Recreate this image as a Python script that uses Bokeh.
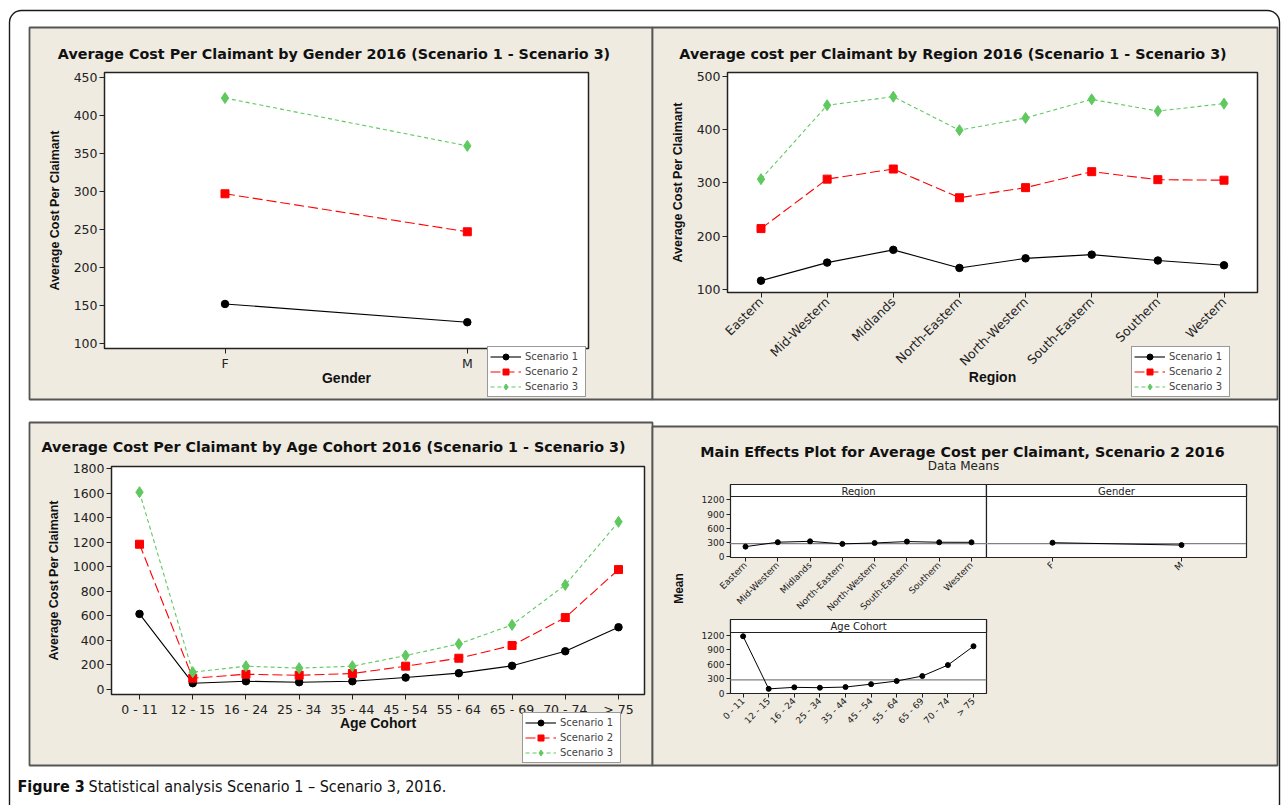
import math
from bokeh.plotting import figure
from bokeh.models import (Range1d, LinearAxis, FixedTicker, Legend, LegendItem,
                          Label, BoxAnnotation)
from bokeh.embed import file_html
from bokeh.resources import INLINE

# ---------------- data ----------------
genders = ["F", "M"]
gender_s1 = [152, 128]
gender_s2 = [297, 247]
gender_s3 = [423, 360]

regions = ["Eastern", "Mid-Western", "Midlands", "North-Eastern",
           "North-Western", "South-Eastern", "Southern", "Western"]
region_s1 = [116, 150, 174, 140, 158, 165, 154, 145]
region_s2 = [214, 307, 326, 272, 291, 321, 306, 305]
region_s3 = [307, 446, 462, 399, 422, 457, 435, 449]

ages = ["0 - 11", "12 - 15", "16 - 24", "25 - 34", "35 - 44",
        "45 - 54", "55 - 64", "65 - 69", "70 - 74", "> 75"]
age_s1 = [615, 49, 65, 57, 65, 95, 131, 191, 310, 506]
age_s2 = [1184, 90, 122, 114, 128, 188, 253, 357, 585, 977]
age_s3 = [1609, 139, 188, 172, 188, 275, 370, 525, 852, 1367]

scenario_names = ["Scenario 1", "Scenario 2", "Scenario 3"]
s2_grand_mean = 278

gender_ticks = [100, 150, 200, 250, 300, 350, 400, 450]
region_ticks = [100, 200, 300, 400, 500]
age_ticks = [0, 200, 400, 600, 800, 1000, 1200, 1400, 1600, 1800]
mean_ticks = [0, 300, 600, 900, 1200]

# ---------------- style / layout ----------------
BEIGE = "#EFEBE1"
S_COLORS = ["#000000", "#FF0000", "#5FC95F"]
S_MARKERS = ["circle", "square", "diamond"]
S_SIZES = [7.5, 8, 11]
S_DASH = ["solid", "10 4", "4 3"]
TICK_FONT = "DejaVu Sans"
LAB_FONT = "Liberation Sans"
TITLE_FONT = "DejaVu Sans"

W, H = 1281, 805          # canvas size
X0, Y0 = 0, 0             # page position of the canvas

p = figure(width=W, height=H, x_range=Range1d(X0, X0 + W),
           y_range=Range1d(Y0 + H, Y0), x_axis_type=None, y_axis_type=None,
           toolbar_location=None, output_backend="svg",
           min_border_left=0, min_border_right=0, min_border_top=0,
           min_border_bottom=0)
p.outline_line_color = None
p.background_fill_color = "white"
p.border_fill_color = "white"

xr_dict, yr_dict = {}, {}


def axis_map(v0, p0, v1, p1, c_start, c_end):
    s = (v1 - v0) / (p1 - p0)

    def f(px):
        return v0 + (px - p0) * s
    return Range1d(f(c_start), f(c_end)), f


def add_ranges(name, xmap, ymap):
    xr, fx = axis_map(*xmap, X0, X0 + W)
    yr, fy = axis_map(*ymap, Y0 + H, Y0)
    xr_dict[name] = xr
    yr_dict[name] = yr
    p.extra_x_ranges = dict(xr_dict)
    p.extra_y_ranges = dict(yr_dict)
    return fx, fy


def box(l, r, t, b, fill, line, lw, radius=None):
    kw = dict(left=l, right=r, top=t, bottom=b, line_color=line,
              line_width=lw, line_alpha=1, level="underlay")
    if fill is None:
        kw["fill_alpha"] = 0
    else:
        kw["fill_color"] = fill
        kw["fill_alpha"] = 1
    if radius is not None:
        kw["border_radius"] = radius
    p.add_layout(BoxAnnotation(**kw))


def label(x, y, text, font, size, style="normal", align="center", angle=0,
          color="#111111"):
    p.add_layout(Label(x=x, y=y, text=text, text_font=font,
                       text_font_size=size, text_font_style=style,
                       text_align=align, text_baseline="middle", angle=angle,
                       text_color=color))


def style_axis(ax, size, standoff=2, tick=5):
    ax.major_tick_in = 0
    ax.major_tick_out = tick
    ax.minor_tick_line_color = None
    ax.axis_line_color = None
    ax.major_tick_line_color = "#222222"
    ax.major_label_text_font = TICK_FONT
    ax.major_label_text_font_size = size
    ax.major_label_text_color = "#222222"
    ax.major_label_standoff = standoff
    ax.axis_label_text_font = LAB_FONT
    ax.axis_label_text_font_style = "bold"
    ax.axis_label_text_color = "#111111"


# outer frame and panels
box(9, 1279, 10, 860, None, "#1A1A1A", 1.4, radius=12)
box(29, 652, 27, 399, BEIGE, "#555555", 1.8)
box(652, 1277, 27, 399, BEIGE, "#555555", 1.8)
box(29, 652, 422, 765, BEIGE, "#555555", 1.8)
box(652, 1277, 426, 765, BEIGE, "#555555", 1.8)


def scenario_panel(name, factors, series, xmap, ymap, area, yticks, title,
                   title_xy, xlabel, xl_standoff, rot, leg_lb):
    fx, fy = add_ranges(name, xmap, ymap)
    l, r, t, b = area
    box(l, r, t, b, "white", "#222222", 1.5)
    n = len(factors)
    xs = list(range(1, n + 1))
    items = []
    for vals, nm, c, m, s, d in zip(series, scenario_names, S_COLORS,
                                    S_MARKERS, S_SIZES, S_DASH):
        lr = p.line(xs, vals, line_color=c, line_width=1.1, line_dash=d,
                    x_range_name=name, y_range_name=name)
        sr = p.scatter(xs, vals, marker=m, size=s, fill_color=c, line_color=c,
                       x_range_name=name, y_range_name=name)
        items.append(LegendItem(label=nm, renderers=[lr, sr]))
    xa = LinearAxis(x_range_name=name, y_range_name=name,
                    fixed_location=fy(b), ticker=FixedTicker(ticks=xs),
                    bounds=(fx(l), fx(r)),
                    major_label_overrides={i: f for i, f in zip(xs, factors)},
                    axis_label=xlabel)
    style_axis(xa, "12.5px")
    xa.axis_label_text_font_size = "14px"
    xa.axis_label_standoff = xl_standoff
    if rot:
        xa.major_label_orientation = math.pi / 4
    p.add_layout(xa, "below")
    ya = LinearAxis(x_range_name=name, y_range_name=name,
                    fixed_location=fx(l), ticker=FixedTicker(ticks=yticks),
                    bounds=(fy(b), fy(t)),
                    axis_label="Average Cost Per Claimant")
    style_axis(ya, "12.5px")
    ya.axis_label_text_font_size = "12.5px"
    ya.axis_label_standoff = 9
    p.add_layout(ya, "left")
    label(title_xy[0], title_xy[1], title, TITLE_FONT, "14.3px", "bold")
    leg = Legend(items=items, location=(leg_lb[0] - X0, Y0 + H - leg_lb[1]),
                 padding=2, spacing=-2, glyph_width=31, glyph_height=15,
                 label_height=13, label_width=58, label_standoff=4, margin=0,
                 label_text_font=TICK_FONT, label_text_font_size="10px",
                 border_line_color="#333333", border_line_width=1,
                 background_fill_color="white", background_fill_alpha=1)
    p.add_layout(leg)


scenario_panel("gender", genders, [gender_s1, gender_s2, gender_s3],
               (1, 224.5, 2, 466.8), (100, 343, 450, 77), (104, 588, 72, 348),
               gender_ticks,
               "Average Cost Per Claimant by Gender 2016 (Scenario 1 - Scenario 3)",
               (333.5, 53), "Gender", -4, False, (487, 397))
scenario_panel("region", regions, [region_s1, region_s2, region_s3],
               (1, 760.5, 8, 1223.5), (100, 288.7, 500, 76),
               (727, 1257, 72, 292), region_ticks,
               "Average cost per Claimant by Region 2016 (Scenario 1 -  Scenario 3)",
               (955, 53), "Region", -8, True, (1131, 397))
scenario_panel("age", ages, [age_s1, age_s2, age_s3],
               (1, 139, 10, 618), (0, 688.7, 1800, 468.3), (111, 644, 466, 694),
               age_ticks,
               "Average Cost Per Claimant by Age Cohort 2016 (Scenario 1 - Scenario 3)",
               (333, 446), "Age Cohort", -5, False, (522, 763))


def effects_sub(name, factors, vals, xmap, ymap, area, strip_b, strip,
                show_y):
    fx, fy = add_ranges(name, xmap, ymap)
    l, r, t, b = area
    box(l, r, t, b, "white", "#222222", 1.2)
    box(l, r, t, strip_b, "white", "#222222", 1.2)
    label((l + r) / 2, (t + strip_b) / 2 + 0.5, strip, TICK_FONT, "10px",
          color="#222222")
    n = len(factors)
    xs = list(range(1, n + 1))
    p.line([0.5, n + 0.5], [s2_grand_mean, s2_grand_mean],
           line_color="#808080", line_width=1.4,
           x_range_name=name, y_range_name=name)
    p.line(xs, vals, line_color="black", line_width=1,
           x_range_name=name, y_range_name=name)
    p.scatter(xs, vals, marker="circle", size=5, color="black",
              x_range_name=name, y_range_name=name)
    xa = LinearAxis(x_range_name=name, y_range_name=name,
                    fixed_location=fy(b), ticker=FixedTicker(ticks=xs),
                    bounds=(fx(l), fx(r)),
                    major_label_overrides={i: f for i, f in zip(xs, factors)})
    style_axis(xa, "9px", 2, 4)
    xa.major_label_orientation = math.pi / 4
    p.add_layout(xa, "below")
    if show_y:
        ya = LinearAxis(x_range_name=name, y_range_name=name,
                        fixed_location=fx(l), bounds=(fy(b), fy(t)),
                        ticker=FixedTicker(ticks=mean_ticks))
        style_axis(ya, "9px", 2, 4)
        p.add_layout(ya, "left")


effects_sub("me_region", regions, region_s2, (1, 745, 8, 971),
            (0, 556.3, 1200, 499.3), (730, 986, 484, 557), 496, "Region", True)
effects_sub("me_gender", genders, gender_s2, (1, 1052, 2, 1181),
            (0, 556.3, 1200, 499.3), (986, 1246, 484, 557), 496, "Gender",
            False)
effects_sub("me_age", ages, age_s2, (1, 742.6, 10, 973),
            (0, 692.7, 1200, 635), (730, 986, 619, 693), 632, "Age Cohort",
            True)

label(962, 451, "Main Effects Plot for Average Cost per Claimant, Scenario 2 2016",
      TITLE_FONT, "14.3px", "bold")
label(963, 465, "Data Means", TICK_FONT, "12px", color="#222222")
label(678, 588, "Mean", LAB_FONT, "12px", "bold", angle=math.pi / 2)

CAP_FONT = "Liberation Sans Narrow, DejaVu Sans Condensed, sans-serif"
label(17, 786, "Figure 3", CAP_FONT, "16px", "bold", align="left")
label(88, 786, "Statistical analysis Scenario 1 \u2013 Scenario 3, 2016.",
      CAP_FONT, "16px", align="left")

open("out.html", "w").write(file_html(p, INLINE))
